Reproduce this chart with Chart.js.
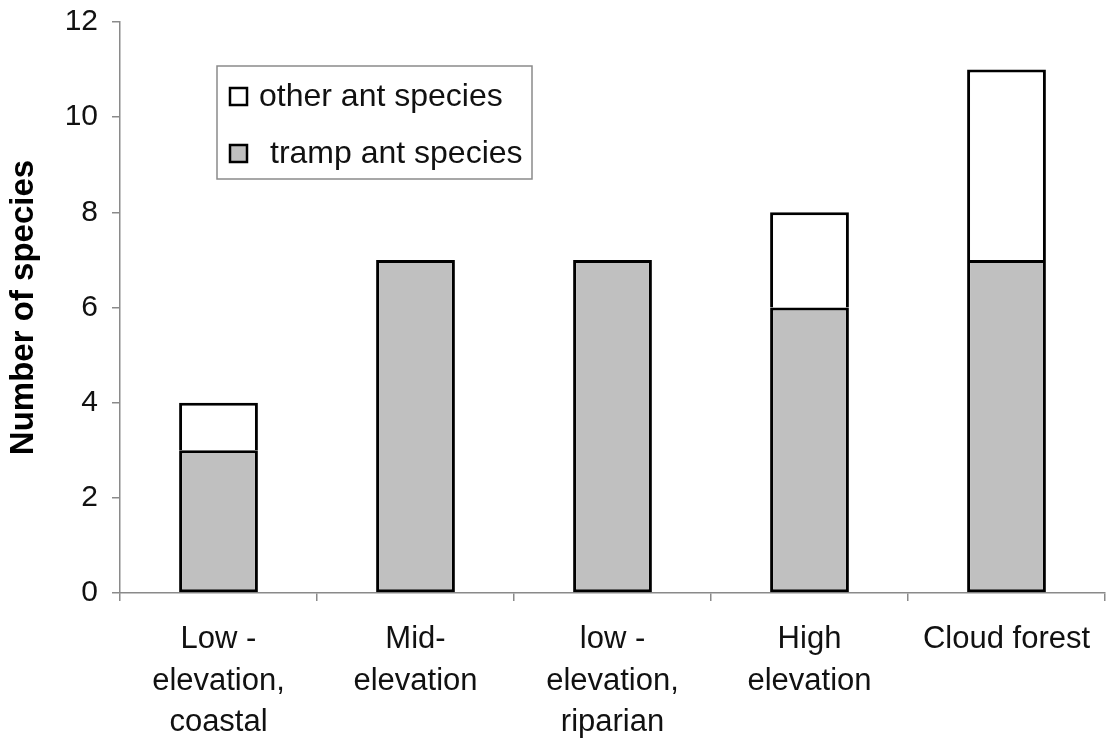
<!DOCTYPE html>
<html>
<head>
<meta charset="utf-8">
<script src="https://cdn.jsdelivr.net/npm/chart.js@4.4.1/dist/chart.umd.min.js"></script>
<style>
  html, body { margin: 0; padding: 0; background: #ffffff; }
  #wrap { width: 1111px; height: 744px; position: relative; }
</style>
</head>
<body>
<div id="wrap"><canvas id="c" width="1111" height="744"></canvas></div>
<script>
const categories = [
  ['Low -', 'elevation,', 'coastal'],
  ['Mid-', 'elevation'],
  ['low -', 'elevation,', 'riparian'],
  ['High', 'elevation'],
  ['Cloud forest']
];
const trampSpecies = [3, 7, 7, 6, 7];
const otherSpecies = [1, 0, 0, 2, 4];
const yTicks = [0, 2, 4, 6, 8, 10, 12];
const seriesLabels = ['tramp ant species', 'other ant species'];
const yTitle = 'Number of species';

const FONT = '"Liberation Sans", Arial, Helvetica, sans-serif';
const AXIS_COLOR = '#8a8a8a';

const boxLegend = {
  id: 'boxLegend',
  afterDraw(chart) {
    const ctx = chart.ctx;
    const a = chart.chartArea;
    const x0 = a.left + 97, y0 = 66, w = 315, h = 113;
    ctx.save();
    ctx.fillStyle = '#ffffff';
    ctx.fillRect(x0, y0, w, h);
    ctx.strokeStyle = AXIS_COLOR;
    ctx.lineWidth = 1.5;
    ctx.strokeRect(x0, y0, w, h);
    // order: other first, tramp second
    const items = [chart.data.datasets[1], chart.data.datasets[0]];
    const textX = [x0 + 42, x0 + 53];
    items.forEach((ds, i) => {
      const cy = y0 + 31 + i * 57;
      ctx.fillStyle = ds.backgroundColor;
      ctx.fillRect(x0 + 13, cy - 9, 17, 17);
      ctx.strokeStyle = '#000';
      ctx.lineWidth = 2.5;
      ctx.strokeRect(x0 + 13, cy - 9, 17, 17);
      ctx.fillStyle = '#111';
      ctx.font = '32px ' + FONT;
      ctx.textBaseline = 'middle';
      ctx.textAlign = 'left';
      ctx.fillText(ds.label, textX[i], cy);
    });
    ctx.restore();
  }
};

new Chart(document.getElementById('c'), {
  type: 'bar',
  data: {
    labels: categories,
    datasets: [
      {
        label: seriesLabels[0],
        data: trampSpecies,
        backgroundColor: '#c0c0c0',
        borderColor: '#000000',
        borderWidth: 3,
        borderSkipped: false,
        categoryPercentage: 1.0,
        barPercentage: 0.4
      },
      {
        label: seriesLabels[1],
        data: otherSpecies,
        backgroundColor: '#ffffff',
        borderColor: '#000000',
        borderWidth: 3,
        borderSkipped: 'start',
        categoryPercentage: 1.0,
        barPercentage: 0.4
      }
    ]
  },
  options: {
    responsive: false,
    animation: false,
    devicePixelRatio: 1,
    layout: { padding: { top: 22, right: 6, left: 0, bottom: 0 } },
    plugins: {
      legend: { display: false },
      tooltip: { enabled: false }
    },
    scales: {
      x: {
        stacked: true,
        offset: true,
        afterFit: (s) => { s.height = 151; s.paddingLeft = 0; s.paddingRight = 0; },
        grid: {
          offset: true,
          drawOnChartArea: false,
          drawTicks: true,
          tickLength: 8,
          color: AXIS_COLOR,
          lineWidth: 1.5
        },
        border: { display: true, color: AXIS_COLOR, width: 1.5 },
        ticks: {
          color: '#111',
          padding: 18,
          maxRotation: 0,
          autoSkip: false,
          font: { family: FONT, size: 31, lineHeight: 1.34 }
        }
      },
      y: {
        stacked: true,
        min: 0,
        max: 12,
        afterFit: (s) => { s.width = 120; s.paddingTop = 0; s.paddingBottom = 0; },
        afterBuildTicks: (s) => { s.ticks = yTicks.map(v => ({ value: v })); },
        grid: {
          drawOnChartArea: false,
          drawTicks: true,
          tickLength: 8,
          color: AXIS_COLOR,
          lineWidth: 1.5
        },
        border: { display: true, color: AXIS_COLOR, width: 1.5 },
        ticks: {
          color: '#111',
          padding: 14,
          font: { family: FONT, size: 30 }
        },
        title: {
          display: true,
          text: yTitle,
          color: '#000',
          padding: { top: 4, bottom: 0 },
          font: { family: FONT, size: 33, weight: 'bold', lineHeight: 1.2 }
        }
      }
    }
  },
  plugins: [boxLegend]
});
</script>
</body>
</html>
